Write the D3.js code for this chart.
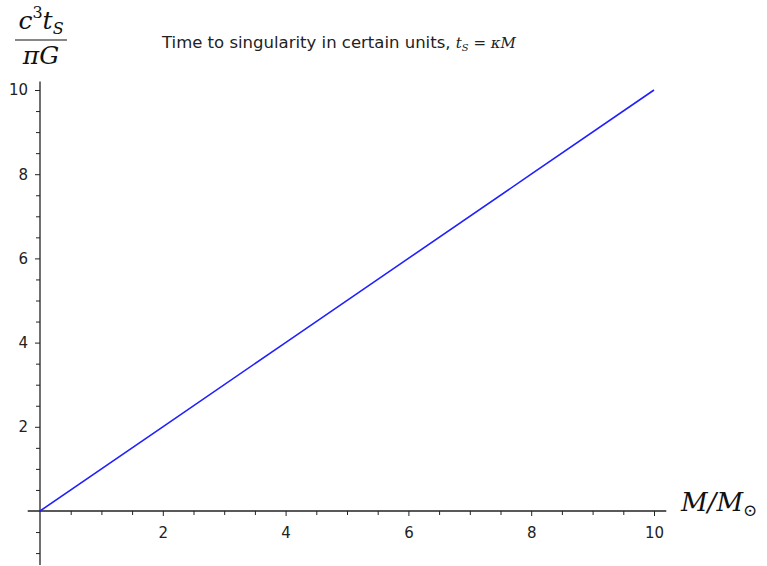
<!DOCTYPE html>
<html lang="en">
<head>
  <title>time to singularity</title>
  <script type="text/javascript" src="https://cdn.jsdelivr.net/npm/d3@7"></script>
  <style>
    body {
      margin: 0px;
      background: white;
    }
    svg {
      display: block;
    }
  </style>
</head>
<body>
  <script type="text/javascript">
    // Data
    var masses = [0, 2, 4, 6, 8, 10];
    var times = [0, 2, 4, 6, 8, 10];
    var xMajorTicks = [2, 4, 6, 8, 10];
    var yMajorTicks = [2, 4, 6, 8, 10];

    var width = 767;
    var height = 566;

    var svg = d3.select("body").append("svg")
      .attr("width", width)
      .attr("height", height);

    svg.append("rect")
      .attr("width", width)
      .attr("height", height)
      .attr("fill", "white");

    // Scales: origin at (40, 511), 10 -> (654, 90)
    var x = d3.scaleLinear().domain([0, 10]).range([40, 654]);
    var y = d3.scaleLinear().domain([0, 10]).range([511, 90]);

    var axisColor = "#222";
    var labelFont = "DejaVu Sans, sans-serif";
    var mathFont = "DejaVu Serif, serif";

    // x axis, crossing at y = 0
    var xAxis = d3.axisBottom(x)
      .tickValues(d3.range(0.5, 10.01, 0.5))
      .tickSize(4)
      .tickFormat(function(d) { return xMajorTicks.indexOf(d) >= 0 ? d : ""; });
    var gx = svg.append("g")
      .attr("transform", "translate(0," + y(0) + ")")
      .call(xAxis);
    gx.select(".domain").remove();
    gx.append("line")
      .attr("x1", x(-0.2)).attr("x2", x(10.2))
      .attr("stroke", axisColor).attr("stroke-width", 1.3);
    gx.selectAll(".tick line").attr("stroke", axisColor)
      .attr("y2", function(d) { return xMajorTicks.indexOf(d) >= 0 ? 5 : 4; });
    gx.selectAll(".tick text")
      .attr("y", 15)
      .attr("dy", "0.71em")
      .attr("fill", "#222")
      .style("font", "15px " + labelFont);
    gx.selectAll(".tick text").attr("dy", null).attr("y", 27);

    // y axis, crossing at x = 0
    var yAxis = d3.axisLeft(y)
      .tickValues(d3.range(-1, 10.01, 0.5).filter(function(d) { return d !== 0; }))
      .tickSize(4)
      .tickFormat(function(d) { return yMajorTicks.indexOf(d) >= 0 ? d : ""; });
    var gy = svg.append("g")
      .attr("transform", "translate(" + x(0) + ",0)")
      .call(yAxis);
    gy.select(".domain").remove();
    gy.append("line")
      .attr("y1", y(-1.28)).attr("y2", y(10.2))
      .attr("stroke", axisColor).attr("stroke-width", 1.3);
    gy.selectAll(".tick line").attr("stroke", axisColor)
      .attr("x2", function(d) { return yMajorTicks.indexOf(d) >= 0 ? -5 : -4; });
    gy.selectAll(".tick text")
      .attr("x", -12)
      .attr("fill", "#222")
      .style("font", "15px " + labelFont);

    // the line
    var line = d3.line()
      .x(function(d, i) { return x(masses[i]); })
      .y(function(d) { return y(d); });
    svg.append("path")
      .datum(times)
      .attr("d", line)
      .attr("fill", "none")
      .attr("stroke", "#2020ff")
      .attr("stroke-width", 1.6);

    // Title
    var title = svg.append("text")
      .attr("x", 162)
      .attr("y", 48)
      .style("font", "16.5px " + labelFont)
      .attr("fill", "#222");
    title.append("tspan").text("Time to singularity in certain units, ");
    title.append("tspan").style("font", "italic 15px " + mathFont).text("t");
    title.append("tspan").style("font", "italic 10px " + mathFont).attr("dy", 3).text("S");
    title.append("tspan").style("font", "15px " + mathFont).attr("dy", -3).text(" = ");
    title.append("tspan").style("font", "italic 15px " + mathFont).text("κM");

    // y label: c^3 t_S / (pi G)
    var ylab = svg.append("g").attr("fill", "#111");
    var num = ylab.append("text")
      .attr("x", 41).attr("y", 29)
      .attr("text-anchor", "middle")
      .style("font", "italic 25px " + mathFont);
    num.append("tspan").text("c");
    num.append("tspan").style("font-size", "16px").style("font-style", "normal").attr("dy", -11).text("3");
    num.append("tspan").attr("dy", 11).text("t");
    num.append("tspan").style("font-size", "16px").attr("dy", 5).text("S");
    ylab.append("line")
      .attr("x1", 15).attr("x2", 67)
      .attr("y1", 40).attr("y2", 40)
      .attr("stroke", "#111").attr("stroke-width", 1.2);
    ylab.append("text")
      .attr("x", 41).attr("y", 64)
      .attr("text-anchor", "middle")
      .style("font", "italic 25px " + mathFont)
      .text("πG");

    // x label: M / M_sun
    var xlab = svg.append("text")
      .attr("x", 681).attr("y", 511)
      .attr("fill", "#111")
      .style("font", "italic 26px " + mathFont);
    xlab.append("tspan").text("M/M");
    xlab.append("tspan").style("font-size", "17px").style("font-style", "normal").attr("dy", 5).text("⊙");
  </script>
</body>
</html>
